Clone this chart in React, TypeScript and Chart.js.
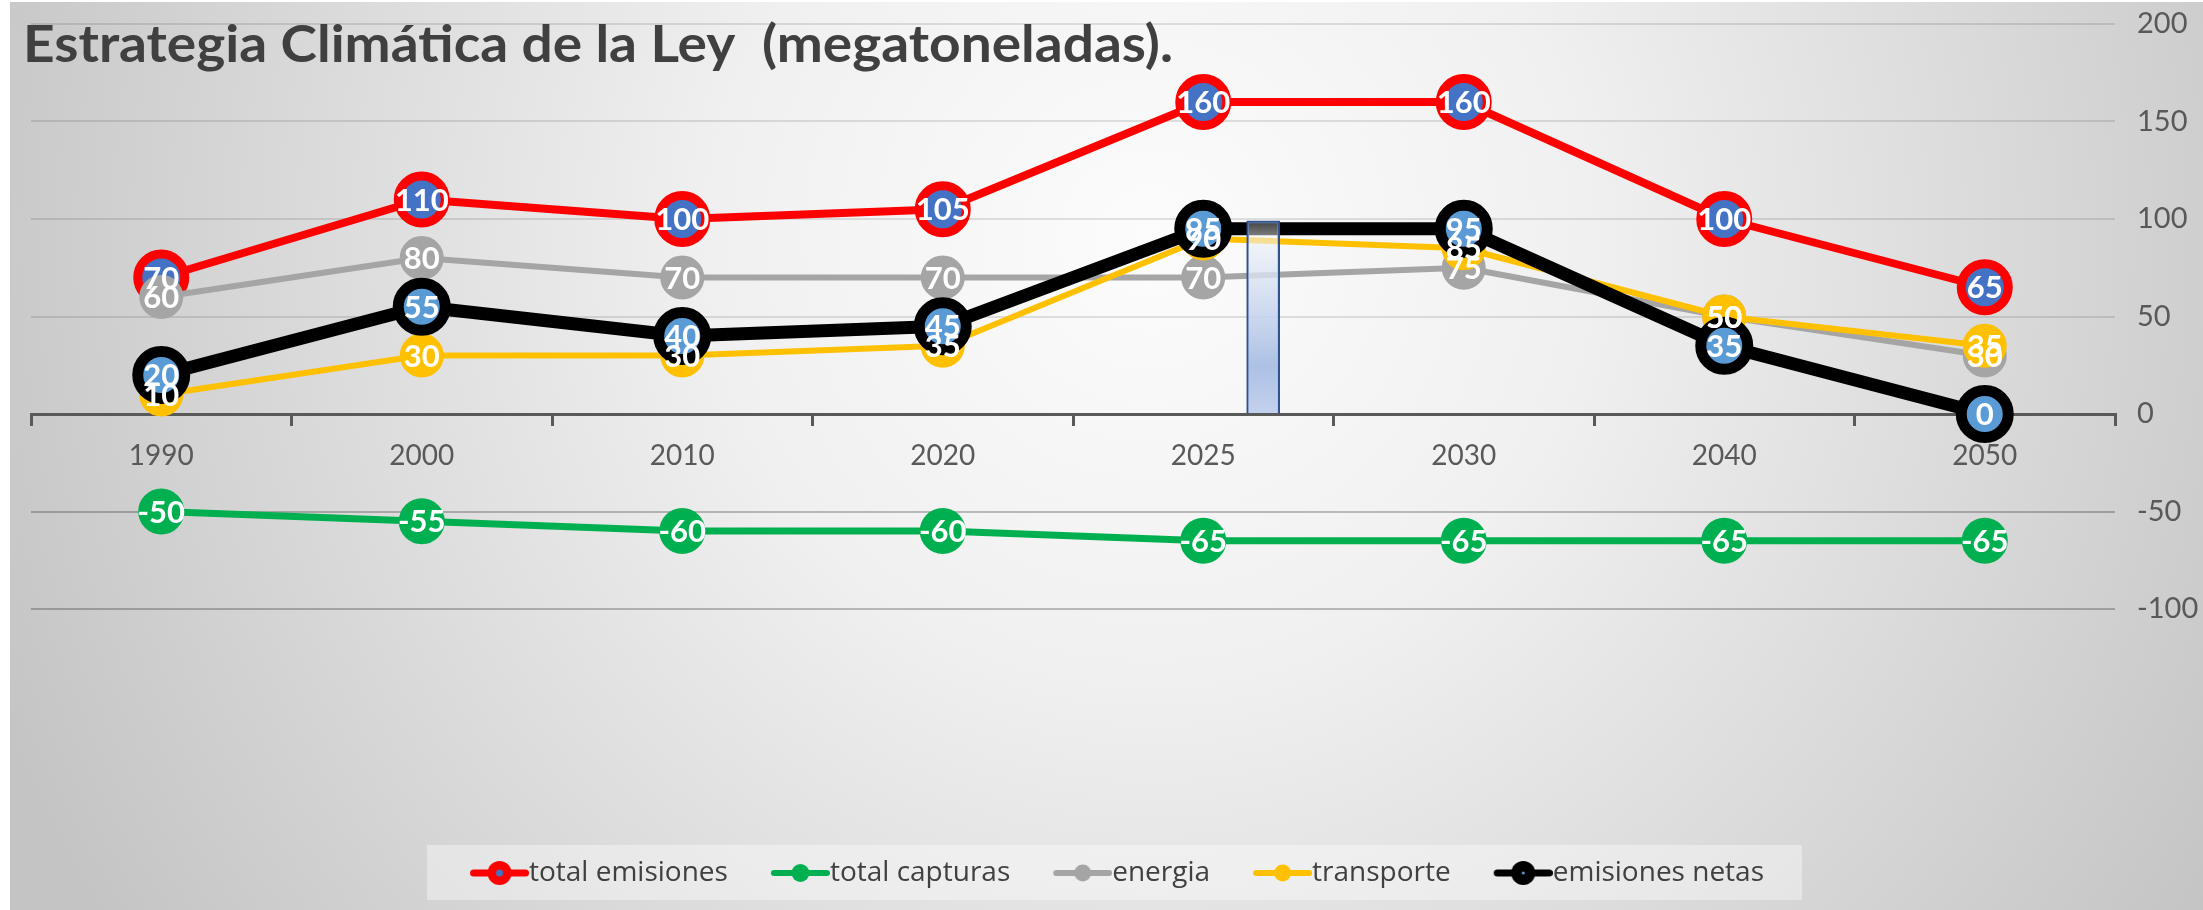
import React, { useEffect, useRef } from 'react';
import { Chart, registerables } from 'chart.js';

Chart.register(...registerables);

// ---------- data ----------
const years = ['1990', '2000', '2010', '2020', '2025', '2030', '2040', '2050'];
const totalEmisiones = [70, 110, 100, 105, 160, 160, 100, 65];
const totalCapturas = [-50, -55, -60, -60, -65, -65, -65, -65];
const energia = [60, 80, 70, 70, 70, 75, 50, 30];
const transporte = [10, 30, 30, 35, 90, 85, 50, 35];
const emisionesNetas = [20, 55, 40, 45, 95, 95, 35, 0];
// thin marker bar just after 2025 (position in category-index units)
const markerBarPosition = [4.23];
const markerBarValue = [99];
const yMin = -100;
const yMax = 200;
const yStep = 50;
const seriesNames = ['total emisiones', 'total capturas', 'energia', 'transporte', 'emisiones netas'];
const titleText = 'Estrategia Climática de la Ley  (megatoneladas).';

const CANVAS_W = 2193;
const CANVAS_H = 908;

const LEGEND_FONT = 28;
const ICON_W = 59; // drawn legend symbol width

function makeIcon(line: string, outer: string, inner: string | null, r: number, ri: number, lw: number) {
  const boxW = ICON_W - LEGEND_FONT / 2;
  const imgW = Math.round(2 * (ICON_W - boxW / 2));
  const start = imgW - ICON_W;
  const c = document.createElement('canvas');
  c.width = imgW;
  c.height = 30;
  const ctx = c.getContext('2d')!;
  ctx.strokeStyle = line;
  ctx.lineWidth = lw;
  ctx.lineCap = 'round';
  ctx.beginPath();
  ctx.moveTo(start + lw / 2, 15);
  ctx.lineTo(imgW - lw / 2, 15);
  ctx.stroke();
  const cx = start + ICON_W / 2;
  ctx.beginPath();
  ctx.arc(cx, 15, r, 0, Math.PI * 2);
  ctx.fillStyle = outer;
  ctx.fill();
  if (inner) {
    ctx.beginPath();
    ctx.arc(cx, 15, ri, 0, Math.PI * 2);
    ctx.fillStyle = inner;
    ctx.fill();
  }
  return c;
}

export default function App() {
  const ref = useRef<HTMLCanvasElement | null>(null);

  useEffect(() => {
    const canvas = ref.current;
    if (!canvas) return;

    const icons = [
      makeIcon('#FF0000', '#FF0000', '#4472C4', 12, 3.5, 7),
      makeIcon('#00B050', '#00B050', null, 9, 0, 6),
      makeIcon('#A5A5A5', '#A5A5A5', null, 8.5, 0, 6),
      makeIcon('#FFC000', '#FFC000', null, 8.5, 0, 6),
      makeIcon('#000000', '#000000', '#5B9BD5', 12, 1.5, 7),
    ];

    const valueSets = [totalEmisiones, totalCapturas, energia, transporte, emisionesNetas];

    const bgPlugin = {
      id: 'bgPlugin',
      beforeDraw(chart: any) {
        const { ctx, width, height } = chart;
        ctx.save();
        const g = ctx.createRadialGradient(1140, 240, 0, 1140, 240, 1250);
        g.addColorStop(0, '#fcfcfc');
        g.addColorStop(0.35, '#f0f0f0');
        g.addColorStop(1, '#c4c4c4');
        ctx.fillStyle = g;
        ctx.fillRect(0, 0, width, height);
        // legend background box
        const hb = chart.legend && chart.legend.legendHitBoxes;
        if (hb && hb.length) {
          const first = hb[0];
          const last = hb[hb.length - 1];
          const x0 = first.left - 43;
          const x1 = last.left + last.width + 38;
          const yc = first.top + first.height / 2;
          ctx.fillStyle = 'rgba(255,255,255,0.38)';
          ctx.fillRect(x0, yc - 28, x1 - x0, 55);
        }
        ctx.restore();
      },
    };

    const labelPlugin = {
      id: 'labelPlugin',
      afterDatasetsDraw(chart: any) {
        const { ctx } = chart;
        ctx.save();
        ctx.font = 'bold 31px Lato';
        ctx.fillStyle = '#FFFFFF';
        ctx.textAlign = 'center';
        ctx.textBaseline = 'middle';
        const drawOrder = [4, 0, 1, 2, 3];
        for (const di of drawOrder) {
          const meta = chart.getDatasetMeta(di);
          const vals = valueSets[di];
          meta.data.forEach((pt: any, j: number) => {
            ctx.fillText(String(vals[j]), pt.x, pt.y + 1);
          });
        }
        ctx.restore();
      },
    };

    const titlePlugin = {
      id: 'titlePlugin',
      afterDraw(chart: any) {
        const { ctx } = chart;
        ctx.save();
        ctx.font = 'bold 51px Lato';
        ctx.fillStyle = '#404040';
        ctx.textAlign = 'left';
        ctx.textBaseline = 'alphabetic';
        const w = ctx.measureText(titleText).width;
        const sx = w > 0 ? 1150 / w : 1;
        ctx.translate(13, 60);
        ctx.scale(sx, 1);
        ctx.fillText(titleText, 0, 0);
        ctx.restore();
      },
    };

    const lineCommon = {
      type: 'line' as const,
      xAxisID: 'x',
      yAxisID: 'y',
      tension: 0,
      borderJoinStyle: 'round' as const,
      borderCapStyle: 'round' as const,
      fill: false,
    };

    const chart = new Chart(canvas, {
      type: 'line',
      data: {
        labels: years,
        datasets: [
          {
            ...lineCommon,
            label: seriesNames[0],
            data: totalEmisiones,
            borderColor: '#FF0000',
            borderWidth: 8,
            pointRadius: 23.5,
            pointBorderWidth: 9,
            pointBackgroundColor: '#4472C4',
            pointBorderColor: '#FF0000',
            order: 5,
          },
          {
            ...lineCommon,
            label: seriesNames[1],
            data: totalCapturas,
            borderColor: '#00B050',
            borderWidth: 7,
            pointRadius: 22,
            pointBorderWidth: 2,
            pointBackgroundColor: '#00B050',
            pointBorderColor: '#00B050',
            order: 4,
          },
          {
            ...lineCommon,
            label: seriesNames[2],
            data: energia,
            borderColor: '#A5A5A5',
            borderWidth: 6,
            pointRadius: 21,
            pointBorderWidth: 2,
            pointBackgroundColor: '#A5A5A5',
            pointBorderColor: '#A5A5A5',
            order: 3,
          },
          {
            ...lineCommon,
            label: seriesNames[3],
            data: transporte,
            borderColor: '#FFC000',
            borderWidth: 6,
            pointRadius: 21,
            pointBorderWidth: 2,
            pointBackgroundColor: '#FFC000',
            pointBorderColor: '#FFC000',
            order: 2,
          },
          {
            ...lineCommon,
            label: seriesNames[4],
            data: emisionesNetas,
            borderColor: '#000000',
            borderWidth: 13,
            pointRadius: 23.5,
            pointBorderWidth: 11,
            pointBackgroundColor: '#5B9BD5',
            pointBorderColor: '#000000',
            order: 1,
          },
          {
            type: 'bar' as const,
            label: 'marca',
            data: markerBarPosition.map((x, i) => ({ x, y: markerBarValue[i] })) as any,
            xAxisID: 'xb',
            yAxisID: 'y',
            grouped: false,
            barThickness: 33,
            borderWidth: 2,
            borderColor: '#2F528F',
            backgroundColor: (c: any) => {
              const ch = c.chart;
              if (!ch.chartArea) return 'rgba(169,190,228,0.8)';
              const ys = ch.scales.y;
              const top = ys.getPixelForValue(markerBarValue[0]);
              const bottom = ys.getPixelForValue(0);
              const g = ch.ctx.createLinearGradient(0, top, 0, bottom);
              g.addColorStop(0, 'rgba(255,255,255,0.25)');
              g.addColorStop(0.15, 'rgba(232,238,248,0.75)');
              g.addColorStop(0.75, 'rgba(169,190,228,0.95)');
              g.addColorStop(1, 'rgba(192,207,236,0.95)');
              return g;
            },
            order: 0,
          } as any,
        ],
      },
      options: {
        responsive: false,
        animation: false,
        events: [],
        devicePixelRatio: 1,
        layout: { autoPadding: false, padding: { left: 21, right: 0, top: 22, bottom: 13 } },
        scales: {
          x: {
            type: 'category',
            position: { y: 0 } as any,
            offset: true,
            grid: {
              offset: true,
              drawOnChartArea: false,
              drawTicks: true,
              tickLength: 10,
              color: '#595959',
              lineWidth: 3,
            },
            border: { display: true, color: '#595959', width: 3 },
            ticks: {
              padding: 15,
              maxRotation: 0,
              autoSkip: false,
              color: '#595959',
              font: { family: 'Lato', size: 28 },
            },
            afterFit: (s: any) => {
              s.paddingTop = 0;
              s.paddingBottom = 0;
            },
          },
          xb: {
            type: 'linear',
            display: false,
            min: -0.5,
            max: 7.5,
            offset: false,
          },
          y: {
            type: 'linear',
            position: 'right',
            min: yMin,
            max: yMax,
            ticks: {
              stepSize: yStep,
              padding: 0,
              color: '#595959',
              font: { family: 'Lato', size: 29 },
            },
            grid: {
              drawTicks: true,
              tickLength: 22,
              tickColor: 'rgba(0,0,0,0)',
              lineWidth: 2,
              color: (c: any) => {
                const v = c.tick ? c.tick.value : 1;
                if (v === 0) return 'rgba(0,0,0,0)';
                return v < 0 ? 'rgba(0,0,0,0.24)' : 'rgba(0,0,0,0.11)';
              },
            },
            border: { display: false },
            afterFit: (s: any) => {
              s.width = 88;
              s.paddingTop = 0;
              s.paddingBottom = 0;
            },
          },
        },
        plugins: {
          tooltip: { enabled: false },
          title: { display: false },
          legend: {
            display: true,
            position: 'bottom',
            align: 'center',
            title: {
              display: true,
              text: ' ',
              font: { size: 10, lineHeight: 1 },
              padding: { top: 197, bottom: 0 } as any,
            },
            labels: {
              usePointStyle: true,
              pointStyleWidth: ICON_W - LEGEND_FONT / 2,
              boxHeight: LEGEND_FONT,
              padding: 43,
              color: '#404040',
              font: { family: 'Open Sans', size: LEGEND_FONT },
              generateLabels: (ch: any) => {
                const items = Chart.defaults.plugins.legend.labels.generateLabels(ch);
                return items
                  .filter((it: any) => it.datasetIndex < 5)
                  .sort((a: any, b: any) => a.datasetIndex - b.datasetIndex)
                  .map((it: any) => ({ ...it, pointStyle: icons[it.datasetIndex], lineWidth: 0 }));
              },
            },
          },
        },
      },
      plugins: [bgPlugin, labelPlugin, titlePlugin],
    });

    let alive = true;
    if ((document as any).fonts && (document as any).fonts.ready) {
      (document as any).fonts.ready.then(() => {
        if (alive) chart.update();
      });
    }

    return () => {
      alive = false;
      chart.destroy();
    };
  }, []);

  return (
    <div style={{ position: 'absolute', left: 10, top: 2, width: CANVAS_W, height: CANVAS_H }}>
      <canvas ref={ref} width={CANVAS_W} height={CANVAS_H} style={{ width: CANVAS_W, height: CANVAS_H, display: 'block' }} />
    </div>
  );
}
